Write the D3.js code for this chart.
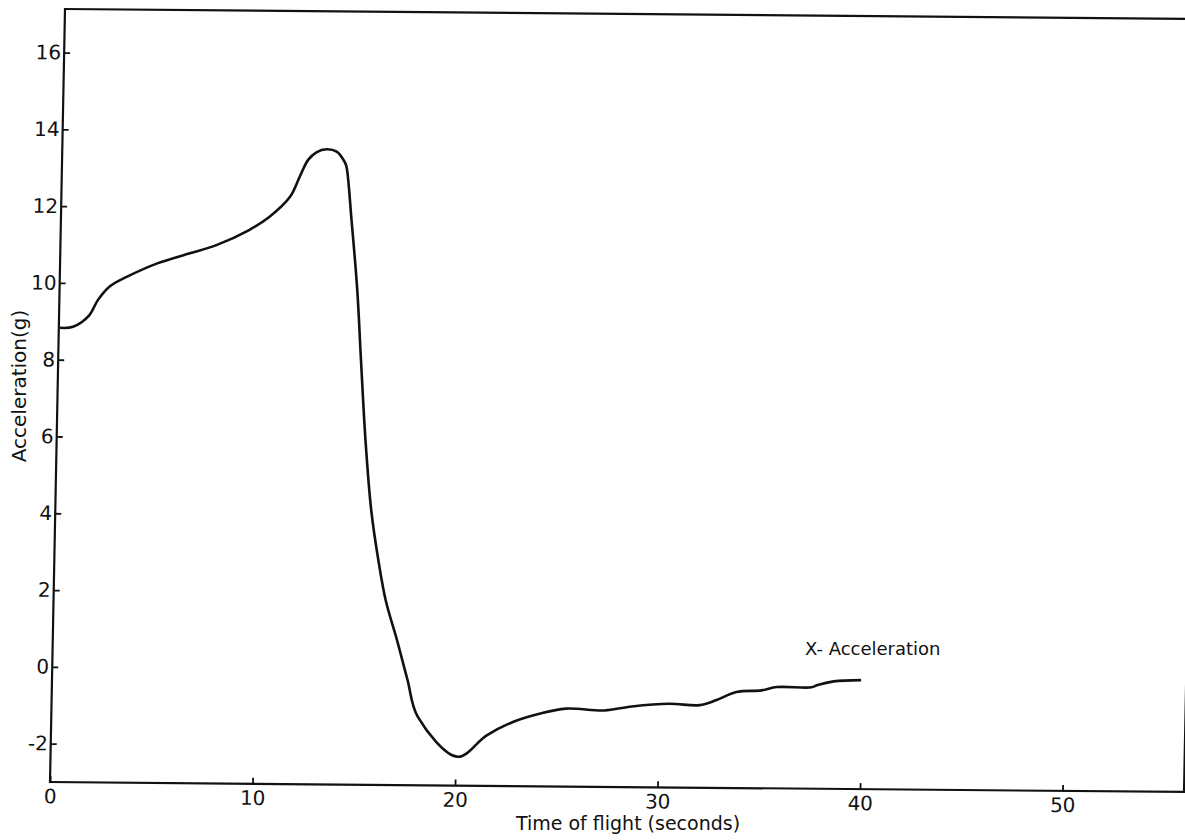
<!DOCTYPE html>
<html lang="en">

<head>
    <meta charset="UTF-8">
    <script src="https://d3js.org/d3.v7.min.js" charset="utf-8"></script>
    <title>X-Acceleration</title>
    <style>
        body { margin: 0; background: #fff; }
        text { font-family: "DejaVu Sans", sans-serif; fill: #111; }
    </style>
</head>

<body>
    <div id="chart"></div>

    <script>
        // valeurs (temps en s, accélération en g)
        const time = [0.05, 0.7, 1.5, 1.9, 2.5, 3.3, 4.8, 6.4, 7.7, 9.3, 10.3, 11.3, 11.75, 12.15, 12.55, 13.05,
            13.55, 13.95, 14.05, 14.35, 14.7, 14.95, 15.25, 15.6, 16.0, 16.4, 17.0, 17.55, 18.1, 20.1,
            21.5, 22.8, 24.1, 25.4, 27.3, 28.65, 30.5, 32.0, 32.8, 33.8, 35.05, 35.8, 37.5, 37.8, 38.6, 39.95];
        const accel = [8.83, 8.86, 9.17, 9.56, 9.93, 10.17, 10.53, 10.8, 11.02, 11.42, 11.77, 12.3, 12.82, 13.26, 13.46, 13.54,
            13.48, 13.22, 13.09, 11.7, 9.88, 8.06, 5.97, 4.15, 2.85, 1.81, 0.77, -0.25, -1.22, -2.25,
            -1.69, -1.33, -1.11, -0.97, -1.01, -0.9, -0.82, -0.85, -0.72, -0.5, -0.45, -0.36, -0.36, -0.3, -0.2, -0.16];
        const xTicks = [0, 10, 20, 30, 40, 50];
        const yTicks = [-2, 0, 2, 4, 6, 8, 10, 12, 14, 16];

        const width = 1185, height = 840;
        const W = 1134, H = 773;

        const svg = d3.select('#chart').append("svg")
            .attr("width", width)
            .attr("height", height);

        // le scan est légèrement de travers : on cisaille tout le cadre
        const g = svg.append("g")
            .attr("transform", "matrix(1,0.0088,-0.0194,1,65,9)");

        const x = d3.scaleLinear().domain([0, 56]).range([0, W]);
        const y = d3.scaleLinear().domain([-3.0, 17.134]).range([H, 0]);

        // cadre
        g.append("path")
            .attr("d", `M0,${H}V0H${W}V${H}Z`)
            .attr("fill", "none")
            .attr("stroke", "#111")
            .attr("stroke-width", 2.2);

        const yAxis = g.append("g")
            .call(d3.axisLeft(y).tickValues(yTicks).tickFormat(d => String(d))
                .tickSizeInner(-6).tickSizeOuter(0).tickPadding(3));
        const xAxis = g.append("g")
            .attr("transform", `translate(0,${H})`)
            .call(d3.axisBottom(x).tickValues(xTicks).tickFormat(d => String(d))
                .tickSizeInner(-6).tickSizeOuter(0).tickPadding(7));

        [yAxis, xAxis].forEach(a => {
            a.select(".domain").remove();
            a.selectAll("line").attr("stroke", "#111").attr("stroke-width", 1.8);
            a.selectAll("text").attr("font-size", 20).attr("font-family", "DejaVu Sans, sans-serif").attr("fill", "#111");
        });

        const line = d3.line()
            .x((d, i) => x(time[i]))
            .y(d => y(d))
            .curve(d3.curveCatmullRom.alpha(0.5));

        g.append("path")
            .datum(accel)
            .attr("d", line)
            .attr("fill", "none")
            .attr("stroke", "#111")
            .attr("stroke-width", 2.6)
            .attr("stroke-linejoin", "round");

        // titres
        svg.append("text")
            .attr("transform", "translate(26,386) rotate(-90)")
            .attr("text-anchor", "middle")
            .attr("font-size", 20)
            .text("Acceleration(g)");

        svg.append("text")
            .attr("x", 628)
            .attr("y", 830)
            .attr("text-anchor", "middle")
            .attr("font-size", 19)
            .text("Time of  flight (seconds)");

        svg.append("text")
            .attr("x", 805)
            .attr("y", 655)
            .attr("font-size", 18)
            .text("X- Acceleration");
    </script>
</body>

</html>
